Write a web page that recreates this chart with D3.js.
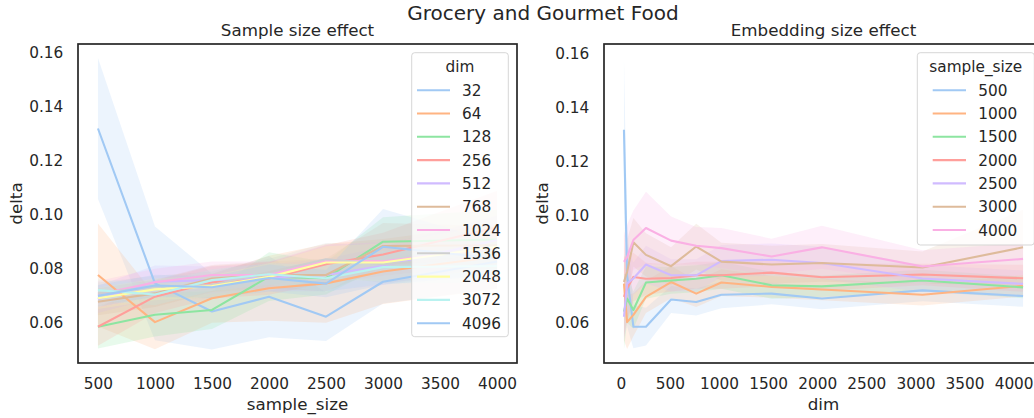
<!DOCTYPE html>
<html>
<head>
<meta charset="utf-8">
<script src="https://cdn.jsdelivr.net/npm/d3@7"></script>
<style>
  body { margin: 0; background: #fff; }
  svg { display: block; }
  text { font-family: "DejaVu Sans", sans-serif; fill: #262626; }
</style>
</head>
<body>
<svg id="chart" width="1034" height="418"></svg>
<script>
// ---- data ---------------------------------------------------------------
const sampleSizes = [500, 1000, 1500, 2000, 2500, 3000, 4000];
const dims = [32, 64, 128, 256, 512, 768, 1024, 1536, 2048, 3072, 4096];

// mean delta, one row per sample size, one column per embedding dim
const deltaMean = [
  [0.1318, 0.0777, 0.0586, 0.0586, 0.0687, 0.0678, 0.0705, 0.0709, 0.0691, 0.0721, 0.0700],
  [0.0746, 0.0603, 0.0630, 0.0697, 0.0752, 0.0709, 0.0750, 0.0734, 0.0724, 0.0705, 0.0738],
  [0.0642, 0.0691, 0.0648, 0.0750, 0.0758, 0.0764, 0.0777, 0.0740, 0.0736, 0.0758, 0.0732],
  [0.0697, 0.0728, 0.0771, 0.0764, 0.0767, 0.0777, 0.0777, 0.0787, 0.0770, 0.0780, 0.0766],
  [0.0623, 0.0746, 0.0765, 0.0817, 0.0777, 0.0777, 0.0830, 0.0835, 0.0823, 0.0765, 0.0745],
  [0.0752, 0.0790, 0.0900, 0.0853, 0.0811, 0.0884, 0.0828, 0.0817, 0.0823, 0.0806, 0.0881],
  [0.0827, 0.0845, 0.0908, 0.0953, 0.0906, 0.0887, 0.0878, 0.0847, 0.0881, 0.0810, 0.0838]
];
// half-width of the 95% confidence band, same layout as deltaMean
const deltaCI = [
  [0.0260, 0.0190, 0.0080, 0.0070, 0.0050, 0.0050, 0.0050, 0.0040, 0.0040, 0.0040, 0.0040],
  [0.0210, 0.0100, 0.0080, 0.0060, 0.0060, 0.0050, 0.0050, 0.0040, 0.0040, 0.0040, 0.0040],
  [0.0140, 0.0090, 0.0070, 0.0060, 0.0050, 0.0050, 0.0050, 0.0050, 0.0040, 0.0040, 0.0040],
  [0.0150, 0.0120, 0.0090, 0.0060, 0.0050, 0.0050, 0.0050, 0.0050, 0.0050, 0.0040, 0.0050],
  [0.0090, 0.0145, 0.0060, 0.0070, 0.0060, 0.0060, 0.0060, 0.0060, 0.0060, 0.0050, 0.0050],
  [0.0080, 0.0120, 0.0090, 0.0080, 0.0070, 0.0085, 0.0070, 0.0070, 0.0070, 0.0060, 0.0140],
  [0.0100, 0.0120, 0.0110, 0.0135, 0.0090, 0.0070, 0.0075, 0.0066, 0.0080, 0.0060, 0.0060]
];

const yTicks = [0.06, 0.08, 0.10, 0.12, 0.14, 0.16];
const sampleTicks = [500, 1000, 1500, 2000, 2500, 3000, 3500, 4000];
const dimTicks = [0, 500, 1000, 1500, 2000, 2500, 3000, 3500, 4000];

const pastel = ["#a1c9f4", "#ffb482", "#8de5a1", "#ff9f9b", "#d0bbff",
                "#debb9b", "#fab0e4", "#cfcfcf", "#fffea3", "#b9f2f0"];

// ---- layout -------------------------------------------------------------
const svg = d3.select("#chart");
const axTop = 44, axBottom = 363, axWidth = 439;
const tickFont = "15.3px", labelFont = "16.7px";

svg.append("text")
  .attr("x", 543).attr("y", 20)
  .attr("text-anchor", "middle")
  .style("font-size", "20px")
  .text("Grocery and Gourmet Food");

function drawPanel(cfg) {
  const g = svg.append("g");
  const x = d3.scaleLinear().domain(cfg.xDomain).range([cfg.left, cfg.left + axWidth]);
  const y = d3.scaleLinear().domain(cfg.yDomain).range([axBottom, axTop]);

  const clipId = "clip-" + cfg.id;
  svg.append("defs").append("clipPath").attr("id", clipId)
    .append("rect")
    .attr("x", cfg.left).attr("y", axTop)
    .attr("width", axWidth).attr("height", axBottom - axTop);

  const plot = g.append("g").attr("clip-path", `url(#${clipId})`);

  const area = d3.area()
    .x(d => x(d.x)).y0(d => y(d.m - d.h)).y1(d => y(d.m + d.h));
  const line = d3.line().x(d => x(d.x)).y(d => y(d.m));

  // confidence bands sit beneath every line
  plot.selectAll("path.band").data(cfg.series).join("path")
    .attr("class", "band")
    .attr("d", s => area(s.pts))
    .attr("fill", s => s.color)
    .attr("fill-opacity", 0.2)
    .attr("stroke", "none");

  plot.selectAll("path.line").data(cfg.series).join("path")
    .attr("class", "line")
    .attr("d", s => line(s.pts))
    .attr("fill", "none")
    .attr("stroke", s => s.color)
    .attr("stroke-width", 2.1)
    .attr("stroke-linejoin", "round");

  // axes (tick marks hidden, labels only)
  const xAxis = g.append("g")
    .attr("transform", `translate(0,${axBottom})`)
    .call(d3.axisBottom(x).tickValues(cfg.xTicks).tickSize(0).tickPadding(15.5)
      .tickFormat(d3.format("d")));
  const yAxis = g.append("g")
    .attr("transform", `translate(${cfg.left},0)`)
    .call(d3.axisLeft(y).tickValues(yTicks).tickSize(0).tickPadding(14.7)
      .tickFormat(d3.format(".2f")));
  [xAxis, yAxis].forEach(a => {
    a.select(".domain").remove();
    a.attr("font-family", null).attr("font-size", null);
    a.selectAll("text").style("font-size", tickFont).attr("fill", "#262626");
  });

  // frame
  g.append("rect")
    .attr("x", cfg.left).attr("y", axTop)
    .attr("width", axWidth).attr("height", axBottom - axTop)
    .attr("fill", "none").attr("stroke", "#262626").attr("stroke-width", 1.7);

  // titles and labels
  g.append("text")
    .attr("x", cfg.left + axWidth / 2).attr("y", 36)
    .attr("text-anchor", "middle").style("font-size", labelFont)
    .text(cfg.title);
  g.append("text")
    .attr("x", cfg.left + axWidth / 2).attr("y", 410)
    .attr("text-anchor", "middle").style("font-size", labelFont)
    .text(cfg.xLabel);
  g.append("text")
    .attr("transform", `translate(${cfg.left - 56.5},${(axTop + axBottom) / 2}) rotate(-90)`)
    .attr("text-anchor", "middle").style("font-size", labelFont)
    .text("delta");

  // legend
  const lg = cfg.legend;
  const leg = g.append("g");
  leg.append("rect")
    .attr("x", lg.x).attr("y", lg.y)
    .attr("width", lg.w).attr("height", lg.h)
    .attr("rx", 3).attr("ry", 3)
    .attr("fill", "#fff").attr("fill-opacity", 0.8)
    .attr("stroke", "#cccccc").attr("stroke-opacity", 0.8).attr("stroke-width", 1);
  leg.append("text")
    .attr("x", lg.x + lg.w / 2).attr("y", lg.y + 19)
    .attr("text-anchor", "middle").style("font-size", tickFont)
    .text(lg.title);
  const rows = leg.selectAll("g.row").data(cfg.series).join("g")
    .attr("class", "row")
    .attr("transform", (s, i) => `translate(0,${lg.y + 37.5 + i * 23.3})`);
  rows.append("line")
    .attr("x1", lg.hx0).attr("x2", lg.hx1)
    .attr("y1", 0).attr("y2", 0)
    .attr("stroke", s => s.color).attr("stroke-width", 2.1);
  rows.append("text")
    .attr("x", lg.tx).attr("y", 5.5)
    .style("font-size", tickFont)
    .text(s => s.label);
}

// left: one line per embedding dim across sample sizes
const dimSeries = dims.map((d, j) => ({
  label: d,
  color: pastel[j % pastel.length],
  pts: sampleSizes.map((s, i) => ({ x: s, m: deltaMean[i][j], h: deltaCI[i][j] }))
}));

// right: one line per sample size across embedding dims
const sampleSeries = sampleSizes.map((s, i) => ({
  label: s,
  color: pastel[i % pastel.length],
  pts: dims.map((d, j) => ({ x: d, m: deltaMean[i][j], h: deltaCI[i][j] }))
}));

drawPanel({
  id: "left", left: 78,
  xDomain: [325, 4175], yDomain: [0.0452, 0.1630],
  xTicks: sampleTicks, series: dimSeries,
  title: "Sample size effect", xLabel: "sample_size",
  legend: { x: 411.7, y: 52.7, w: 96.6, h: 284, title: "dim", hx0: 417, hx1: 450, tx: 462 }
});

drawPanel({
  id: "right", left: 604,
  xDomain: [-171.2, 4299.2], yDomain: [0.0451, 0.1637],
  xTicks: dimTicks, series: sampleSeries,
  title: "Embedding size effect", xLabel: "dim",
  legend: { x: 917.3, y: 52.7, w: 117, h: 192.3, title: "sample_size", hx0: 932.7, hx1: 966, tx: 978.3 }
});
</script>
</body>
</html>
